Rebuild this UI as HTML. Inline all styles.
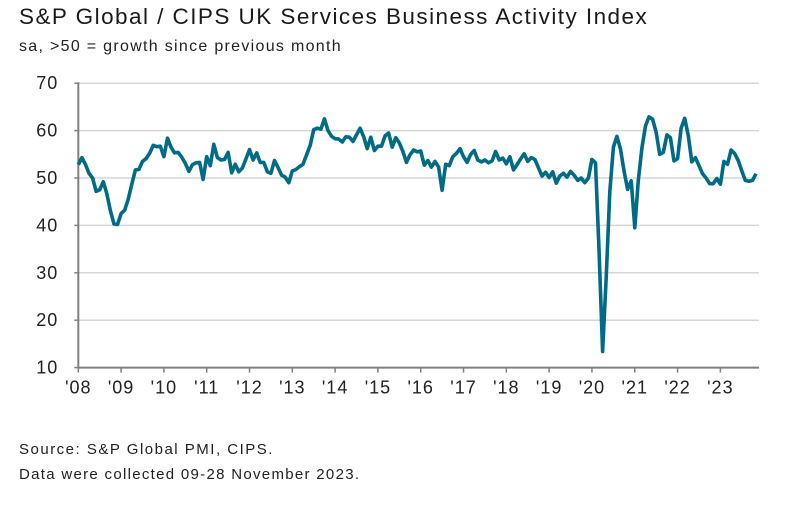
<!DOCTYPE html>
<html><head><meta charset="utf-8"><style>
body{margin:0;background:#fff;width:796px;height:510px;overflow:hidden;font-family:"Liberation Sans",sans-serif;color:#222}
.t{position:absolute;left:19px;white-space:nowrap}
</style></head><body>
<div class="t" style="top:4px;font-size:22.5px;letter-spacing:1.45px;color:#1a1a1a">S&amp;P Global / CIPS UK Services Business Activity Index</div>
<div class="t" style="top:38px;font-size:16px;letter-spacing:1.3px">sa, &gt;50 = growth since previous month</div>
<div class="t" style="top:441px;font-size:15px;letter-spacing:1.5px">Source: S&amp;P Global PMI, CIPS.</div>
<div class="t" style="top:466px;font-size:15px;letter-spacing:1.3px">Data were collected 09-28 November 2023.</div>
<svg id="c" width="796" height="510" style="position:absolute;left:0;top:0"></svg>
<script>
const yTicks=[10,20,30,40,50,60,70];
const yearLabels=["'08","'09","'10","'11","'12","'13","'14","'15","'16","'17","'18","'19","'20","'21","'22","'23"];
const values=[
52.8,54.3,52.9,51.0,50.0,47.2,47.5,49.2,46.7,43.1,40.3,40.2,
42.5,43.2,45.5,48.7,51.7,51.8,53.5,54.1,55.2,56.9,56.6,56.7,
54.5,58.4,56.5,55.3,55.4,54.4,53.1,51.4,52.8,53.2,53.3,49.7,
54.5,52.6,57.1,54.3,53.8,53.9,55.4,51.1,52.9,51.3,52.1,54.0,
56.0,53.8,55.3,53.3,53.3,51.3,51.0,53.7,52.2,50.6,50.2,49.0,
51.5,51.8,52.4,52.9,54.9,56.9,60.2,60.5,60.3,62.5,60.0,58.8,
58.3,58.2,57.6,58.7,58.6,57.7,59.1,60.5,58.7,56.2,58.6,55.8,
56.7,56.7,58.9,59.5,56.5,58.5,57.4,55.6,53.3,54.9,55.9,55.5,
55.7,52.7,53.7,52.3,53.5,52.3,47.4,52.9,52.6,54.5,55.2,56.2,
54.5,53.3,55.0,55.8,53.8,53.4,53.8,53.2,53.6,55.6,53.8,54.2,
53.0,54.5,51.7,52.8,54.0,55.1,53.5,54.3,53.9,52.2,50.4,51.2,
50.1,51.3,48.9,50.4,51.0,50.2,51.4,50.6,49.5,50.0,49.0,50.0,
53.9,53.2,34.5,13.4,29.0,47.1,56.5,58.8,56.1,51.4,47.6,49.4,
39.5,49.5,56.3,61.0,62.9,62.4,59.6,55.0,55.4,59.1,58.5,53.6,
54.1,60.5,62.6,58.9,53.4,54.3,52.6,50.9,50.0,48.8,48.8,49.9,
48.7,53.5,52.9,55.9,55.2,53.7,51.5,49.5,49.3,49.5,50.9];
const NS="http://www.w3.org/2000/svg",svg=document.getElementById('c');
const L=78.3,R=759,M=3.567;
const x=m=>L+m*M, y=v=>178-(v-50)*4.74;
function mk(t,a){const e=document.createElementNS(NS,t);for(const k in a)e.setAttribute(k,a[k]);svg.appendChild(e);return e;}
yTicks.forEach(v=>{
 if(v>10){const g=mk('line',{x1:L,x2:R,y1:y(v),y2:y(v),stroke:'#d6d6d6','stroke-width':1.5});
 
 }
 const tk=mk('line',{x1:L-4,x2:L,y1:y(v),y2:y(v),stroke:'#808080','stroke-width':1.5});
 
 
 const t=mk('text',{x:L-20,y:y(v)+6,'text-anchor':'end','font-size':18,'letter-spacing':1,fill:'#222','font-family':'Liberation Sans'});
 t.textContent=v;
 
 
});
const ax=mk('line',{x1:L,x2:L,y1:y(70)-1,y2:y(10),stroke:'#808080','stroke-width':2});


const xa=mk('line',{x1:L,x2:R,y1:y(10),y2:y(10),stroke:'#808080','stroke-width':2});


yearLabels.forEach((s,i)=>{
 const xx=x(i*12);
 const tk=mk('line',{x1:xx,x2:xx,y1:y(10),y2:y(10)+5,stroke:'#808080','stroke-width':1.5});
 
 
 const t=mk('text',{x:xx,y:y(10)+26,'text-anchor':'middle','font-size':18,'letter-spacing':1,fill:'#222','font-family':'Liberation Sans'});
 t.textContent=s;
 
 
});
const p=mk('polyline',{points:values.map((v,i)=>x(i).toFixed(1)+','+y(v).toFixed(1)).join(' '),fill:'none',stroke:'#006b86','stroke-width':3.6,'stroke-linejoin':'round'});


</script>
</body></html>
